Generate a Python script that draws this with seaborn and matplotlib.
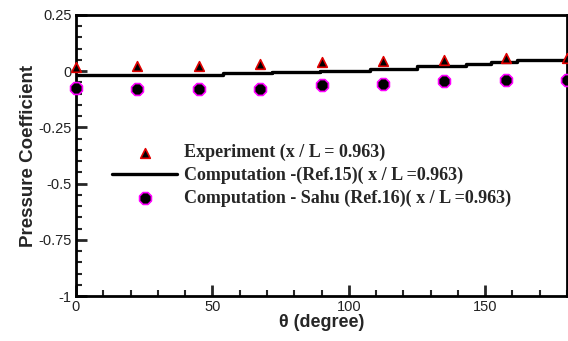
import matplotlib
matplotlib.use("Agg")
import matplotlib.pyplot as plt
import seaborn as sns
import pandas as pd
import numpy as np
from matplotlib.ticker import MultipleLocator

theta_pts = [0, 22.5, 45, 67.5, 90, 112.5, 135, 157.5, 180]
exp_cp = [0.02, 0.022, 0.022, 0.03, 0.04, 0.046, 0.052, 0.06, 0.06]
sahu_cp = [-0.074, -0.077, -0.077, -0.077, -0.06, -0.055, -0.043, -0.037, -0.037]
theta_line = [0, 54, 72, 89.5, 107.6, 125, 143, 152, 161.6, 180]
comp_cp = [-0.015, -0.01, -0.005, 0.003, 0.012, 0.025, 0.034, 0.043, 0.052, 0.052]

lbl_exp = "Experiment (x / L = 0.963)"
lbl_comp = "Computation -(Ref.15)( x / L =0.963)"
lbl_sahu = "Computation - Sahu (Ref.16)( x / L =0.963)"

sns.set_style("ticks")
plt.rcParams['font.family'] = ['Liberation Sans', 'DejaVu Sans']

fig = plt.figure(figsize=(5.68, 3.41), dpi=100)
ax = fig.add_axes([76/568, 1-296/341, 491/568, 281/341])

df_exp = pd.DataFrame({"theta": theta_pts, "cp": exp_cp})
df_sahu = pd.DataFrame({"theta": theta_pts, "cp": sahu_cp})
df_line = pd.DataFrame({"theta": theta_line, "cp": comp_cp})

sns.scatterplot(data=df_exp, x="theta", y="cp", marker="^", s=48, color="black",
                edgecolor="#e00000", linewidth=1.2, ax=ax, label=lbl_exp, zorder=3, clip_on=False)
sns.lineplot(data=df_line, x="theta", y="cp", color="black", linewidth=2.4,
             drawstyle="steps-post", ax=ax, label=lbl_comp, zorder=2)
sns.scatterplot(data=df_sahu, x="theta", y="cp", marker="8", s=85, color="black",
                edgecolor="#ff00ff", linewidth=1.2, ax=ax, label=lbl_sahu, zorder=3, clip_on=False)

ax.set_xlim(0, 180)
ax.set_ylim(-1, 0.25)
ax.xaxis.set_minor_locator(MultipleLocator(10))
ax.yaxis.set_minor_locator(MultipleLocator(0.05))
ax.set_yticks([0.25, 0, -0.25, -0.5, -0.75, -1])
ax.set_yticklabels(["0.25", "0", "-0.25", "-0.5", "-0.75", "-1"])
ax.set_xticks([0, 50, 100, 150])
ax.set_xticklabels(["0", "50", "100", "150"])

ax.tick_params(axis="both", which="major", direction="in", length=8, width=2,
               labelsize=10.5, labelcolor="#222222", pad=3)
ax.tick_params(axis="both", which="minor", direction="in", length=4, width=1.5)
for sp in ax.spines.values():
    sp.set_linewidth(2)
    sp.set_color("black")

ax.set_xlabel("θ (degree)", fontsize=13, fontweight="bold", labelpad=0)
ax.set_ylabel("Pressure Coefficient", fontsize=13.5, fontweight="bold", labelpad=1)

leg = ax.legend(loc="upper left", bbox_to_anchor=(103/568, 1-135/341),
                bbox_transform=fig.transFigure, frameon=False,
                prop={"family": "Liberation Serif", "weight": "bold", "size": 13},
                handlelength=3.6, handletextpad=0.4, labelspacing=0.3, borderpad=0)

fig.savefig("out.png", dpi=100)
